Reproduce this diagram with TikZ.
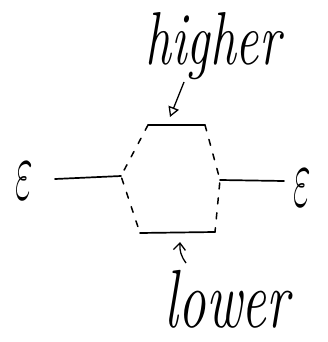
\documentclass[tikz,border=0pt]{standalone}
\usepackage{fix-cm}
\usetikzlibrary{arrows.meta}
\begin{document}
\begin{tikzpicture}[x=1pt,y=-1pt,
  solidline/.style={line width=1.7pt,line cap=round},
  dashside/.style={line width=1.5pt,line cap=round,dash pattern=on 6pt off 9pt},
  hand/.style={inner sep=0pt,anchor=base},
  epsnode/.style={inner sep=0pt}]
\useasboundingbox (0,0) rectangle (327,342);
% labels
\node[hand] (higher) at (213,65) {\scalebox{1.03}[1.5]{\fontsize{50}{60}\selectfont\itshape higher}};
\node[hand] (lower) at (227,327) {\scalebox{1}[1.5]{\fontsize{55}{66}\selectfont\itshape lower}};
\node[epsnode] (epsL) at (24,181) {\scalebox{0.85}[1.9]{\fontsize{45}{54}\selectfont$\varepsilon$}};
\node[epsnode] (epsR) at (302,188) {\scalebox{0.85}[1.9]{\fontsize{45}{54}\selectfont$\varepsilon$}};
% hexagon corners
\coordinate (tl) at (148,125);
\coordinate (tr) at (205,125);
\coordinate (r) at (220,180);
\coordinate (br) at (215,232);
\coordinate (bl) at (140,233);
\coordinate (l) at (121,176);
% top and bottom lines
\draw[solidline] (tl) -- (tr);
\draw[solidline] (bl) -- (br);
% dashed sides
\draw[dashside] (tr) -- (r) -- (br);
\draw[dashside] (tl) -- (l) -- (bl);
% external legs
\coordinate (lend) at (55,179);
\coordinate (rend) at (284,181);
\draw[solidline] (lend) -- (l);
\draw[solidline] (r) -- (rend);
% arrows
\coordinate (htail) at (184,82);
\coordinate (htip) at (170,117);
\draw[line width=1.3pt,-{Triangle[open,length=10pt,width=11pt,line width=1.3pt]}] (htail) -- (htip);
\coordinate (ltail) at (186,263);
\coordinate (ltip) at (180,242);
\draw[line width=1.3pt,-{Straight Barb[length=7pt,width=12pt,line width=1.3pt]}] (ltail) to[bend left=20] (ltip);
\end{tikzpicture}
\end{document}
